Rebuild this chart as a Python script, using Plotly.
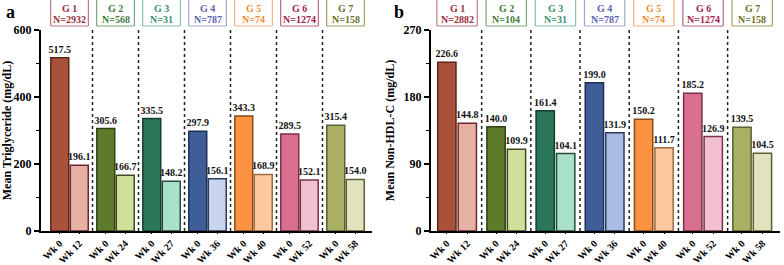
import plotly.graph_objects as go

groups = ["G 1", "G 2", "G 3", "G 4", "G 5", "G 6", "G 7"]
followup_weeks = ["Wk 12", "Wk 24", "Wk 27", "Wk 36", "Wk 40", "Wk 52", "Wk 58"]
tg_n = [2932, 568, 31, 787, 74, 1274, 158]
tg_wk0 = [517.5, 305.6, 335.5, 297.9, 343.3, 289.5, 315.4]
tg_fu = [196.1, 166.7, 148.2, 156.1, 168.9, 152.1, 154.0]
nh_n = [2882, 104, 31, 787, 74, 1274, 158]
nh_wk0 = [226.6, 140.0, 161.4, 199.0, 150.2, 185.2, 139.5]
nh_fu = [144.8, 109.9, 104.1, 131.9, 111.7, 126.9, 104.5]

dark_fill = ["#A9523B", "#5E7B2C", "#2A7859", "#3F5E98", "#FB9241", "#D9708F", "#A9B063"]
dark_line = ["#5B2518", "#2F4212", "#173F2D", "#1F2F55", "#8A4A18", "#7A3048", "#5A6030"]
light_fill = ["#E6B0A2", "#CEE09C", "#A9E2C9", "#C9D5EC", "#FDC9A0", "#F1C1D2", "#E2E2BC"]
light_fill_b = ["#E6B0A2", "#CEE09C", "#A9E2C9", "#A9BCE2", "#FDC9A0", "#F1C1D2", "#E2E2BC"]
light_line = ["#6A2A30", "#3C4A20", "#234A3A", "#2A3A60", "#A06A40", "#7A3048", "#5A6030"]
label_color = ["#9B2D3A", "#3E7B3E", "#3C9070", "#5B62B0", "#F08A3A", "#A3204A", "#6E6E2A"]
box_color = ["#C07885", "#78A878", "#88C0AC", "#A0A8D0", "#F2B488", "#B86888", "#A0A060"]

FONT = "Liberation Serif"
W, H = 784, 265
idx = list(range(len(groups)))

panels = [
    dict(ax="x", ay="y", wk0=tg_wk0, fu=tg_fu, n=tg_n, off=0.212, bw=0.39,
         xr=[-0.62, 6.576], xd=[41 / W, 372 / W], yr=[0, 600], dt=200,
         title="Mean Triglyceride (mg/dL)", lf=light_fill, letter="a", lx=4, bh=0.41),
    dict(ax="x2", ay="y2", wk0=nh_wk0, fu=nh_fu, n=nh_n, off=0.208, bw=0.372,
         xr=[-0.53, 6.565], xd=[431 / W, 780 / W], yr=[0, 270], dt=90,
         title="Mean Non-HDL-C (mg/dL)", lf=light_fill_b, letter="b", lx=392, bh=0.41),
]

fig = go.Figure()
shapes, annotations = [], []
ydom = [(H - 231) / H, (H - 30) / H]
box_bot = (H - 26) / H

for k, p in enumerate(panels):
    x0s = [i - p["off"] for i in idx]
    x1s = [i + p["off"] for i in idx]
    fig.add_trace(go.Bar(x=x0s, y=p["wk0"], width=p["bw"], xaxis=p["ax"], yaxis=p["ay"],
                         marker=dict(color=dark_fill, line=dict(color=dark_line, width=1.5)),
                         text=[f"{v:.1f}" for v in p["wk0"]], textposition="outside",
                         constraintext="none", cliponaxis=False,
                         textfont=dict(family=FONT, size=10, color="#111", weight="bold"),
                         showlegend=False))
    fig.add_trace(go.Bar(x=x1s, y=p["fu"], width=p["bw"], xaxis=p["ax"], yaxis=p["ay"],
                         marker=dict(color=p["lf"], line=dict(color=light_line, width=1.5)),
                         text=[f"{v:.1f}" for v in p["fu"]], textposition="outside",
                         constraintext="none", cliponaxis=False,
                         textfont=dict(family=FONT, size=10, color="#111", weight="bold"),
                         showlegend=False))
    tickvals, ticktext = [], []
    for i in idx:
        tickvals += [x0s[i], x1s[i]]
        ticktext += ["Wk 0", followup_weeks[i]]
    suffix = "" if k == 0 else "2"
    fig.update_layout(**{
        "xaxis" + suffix: dict(domain=p["xd"], range=p["xr"], anchor=p["ay"], tickvals=tickvals,
                               ticktext=ticktext, tickangle=-45, showline=True, linecolor="#000",
                               linewidth=1.5, ticks="outside", ticklen=1, tickwidth=1, tickcolor="#000",
                               showgrid=False, zeroline=False, automargin=False,
                               tickfont=dict(family=FONT, size=10, color="#000", weight="bold")),
        "yaxis" + suffix: dict(domain=ydom, range=p["yr"], anchor=p["ax"], dtick=p["dt"],
                               showline=True, linecolor="#000", linewidth=2, ticks="outside",
                               ticklen=5, tickwidth=1.5, tickcolor="#000", showgrid=False,
                               zeroline=False, automargin=False,
                               tickfont=dict(family=FONT, size=12, color="#000", weight="bold"),
                               minor=dict(ticks="outside", ticklen=3, tickwidth=1, tickcolor="#000",
                                          dtick=p["dt"] / 2, showgrid=False),
                               title=dict(text=f"<b>{p['title']}</b>", standoff=6,
                                          font=dict(family=FONT, size=12, color="#000"))),
    })
    for i in idx[:-1]:
        shapes.append(dict(type="line", xref=p["ax"], yref=p["ay"], x0=i + 0.5, x1=i + 0.5,
                           y0=0, y1=p["yr"][1], line=dict(color="#222", width=1.5, dash="dot")))
    for i in idx:
        c = box_color[i]
        l, r = i - p["bh"], i + p["bh"]
        for (xa, ya, xb, yb) in [(l, 1.0, l, box_bot), (l, box_bot, r, box_bot), (r, box_bot, r, 1.0)]:
            shapes.append(dict(type="line", xref=p["ax"], yref="paper", x0=xa, y0=ya, x1=xb, y1=yb,
                               line=dict(color=c, width=1.2)))
        annotations.append(dict(x=i, y=(H - 9) / H, xref=p["ax"], yref="paper", showarrow=False,
                                text=f"<b>{groups[i]}</b>", yanchor="middle",
                                font=dict(family=FONT, size=10, color=label_color[i])))
        annotations.append(dict(x=i, y=(H - 20) / H, xref=p["ax"], yref="paper", showarrow=False,
                                text=f"<b>N={p['n'][i]}</b>", yanchor="middle",
                                font=dict(family=FONT, size=10, color=label_color[i])))
    annotations.append(dict(x=p["lx"] / W, y=1.0, xref="paper", yref="paper", showarrow=False,
                            text=f"<b>{p['letter']}</b>", xanchor="left", yanchor="top",
                            font=dict(family=FONT, size=18, color="#000")))

fig.update_layout(width=W, height=H, margin=dict(l=0, r=0, t=0, b=0, autoexpand=False),
                  paper_bgcolor="white", plot_bgcolor="white", barmode="overlay",
                  shapes=shapes, annotations=annotations)
fig.write_html("out.html", config={"displayModeBar": False},
               post_script="document.body.style.margin='0';document.body.style.overflow='hidden';")
